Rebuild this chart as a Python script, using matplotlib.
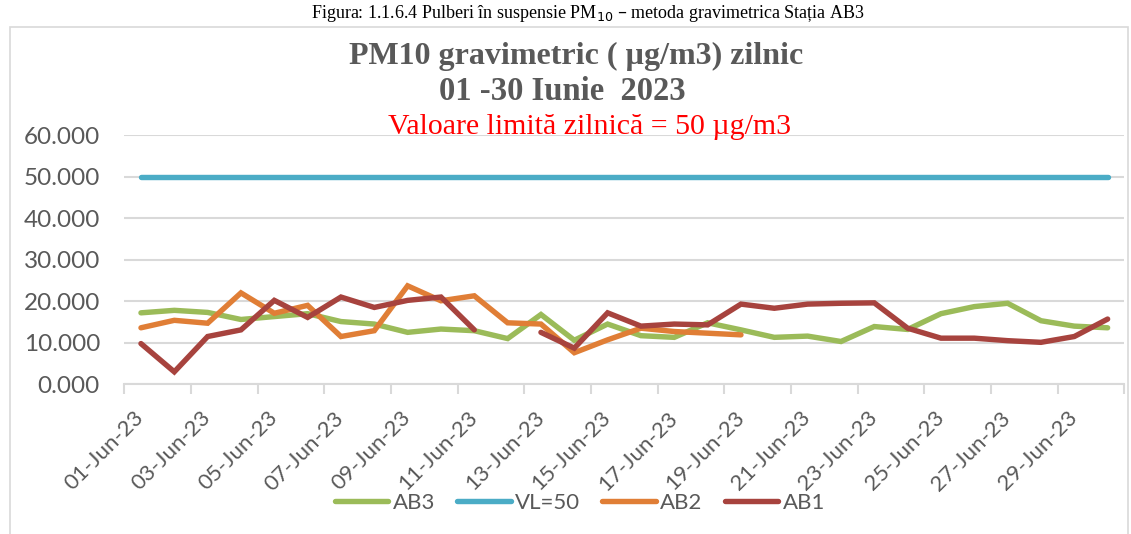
import matplotlib
matplotlib.use("Agg")
import matplotlib.pyplot as plt
import numpy as np
from matplotlib.patches import Rectangle

# ---------------- data ----------------
days = list(range(1, 31))
date_labels = [f"{d:02d}-Jun-23" for d in days]

ab3 = [17.2, 17.8, 17.3, 15.6, 16.3, 17.0, 15.1, 14.5, 12.5, 13.3, 12.9, 11.0,
       16.8, 10.6, 14.5, 11.7, 11.3, 14.8, 13.1, 11.3, 11.6, 10.3, 13.9, 13.2,
       17.0, 18.7, 19.5, 15.3, 14.0, 13.6]
vl50 = [50.0] * 30
ab2 = [13.6, 15.4, 14.7, 22.0, 17.1, 19.0, 11.5, 12.9, 23.7, 20.1, 21.3, 14.8,
       14.5, 7.6, 10.7, 13.5, 12.7, 12.3, 11.9] + [np.nan] * 11
ab1 = [9.8, 3.0, 11.5, 13.1, 20.2, 16.1, 21.0, 18.5, 20.2, 21.0, 13.1, np.nan,
       12.5, 8.7, 17.2, 14.0, 14.5, 14.3, 19.3, 18.3, 19.3, 19.5, 19.6, 13.5,
       11.1, 11.1, 10.5, 10.1, 11.5, 15.7]

series_names = ["AB3", "VL=50", "AB2", "AB1"]
series_vals = [ab3, vl50, ab2, ab1]
series_colors = ["#9BBB59", "#4BACC6", "#E07E36", "#A7433E"]

title1 = "PM10 gravimetric ( µg/m3) zilnic"
title2 = "01 -30 Iunie  2023"
subtitle = "Valoare limită zilnică = 50 µg/m3"
caption = "Figura: 1.1.6.4 Pulberi în suspensie PM$_{10}$ – metoda gravimetrica Stația AB3"

# ---------------- figure ----------------
W, H = 1131, 534
fig = plt.figure(figsize=(W / 100, H / 100), dpi=100)
fig.patch.set_facecolor("white")

def fx(px):
    return px / W

def fy(py):
    return 1 - py / H

# chart border
fig.patches.append(Rectangle((fx(9.5), fy(545)), fx(1127.5) - fx(9.5), fy(27) - fy(545),
                             transform=fig.transFigure, fill=False,
                             edgecolor="#D9D9D9", linewidth=1.2))

ax_l, ax_r, ax_t, ax_b = 124.3, 1124.3, 135.0, 384.3
ax = fig.add_axes([fx(ax_l), fy(ax_b), fx(ax_r) - fx(ax_l), (ax_b - ax_t) / H])

sans = ["Lato", "DejaVu Sans"]
grey = "#595959"

for name, vals, col in zip(series_names, series_vals, series_colors):
    ax.plot(days, vals, color=col, lw=3.9, solid_capstyle="round",
            solid_joinstyle="miter", label=name, zorder=3)

ax.set_xlim(0.5, 30.5)
ax.set_ylim(0, 60)
ax.set_yticks(np.arange(0, 61, 10))
ax.set_yticklabels([f"{v:.3f}" for v in np.arange(0, 61, 10)],
                   fontsize=17.5, color=grey, family=sans)
ax.yaxis.grid(True, color="#D9D9D9", lw=1.5, zorder=0)
ax.tick_params(axis="y", length=0, pad=17.5)

ax.set_xticks(days[::2])
ax.set_xticklabels(date_labels[::2], rotation=45, ha="right", va="center",
                   rotation_mode="anchor", fontsize=16, color=grey, family=sans)
ax.set_xticks(np.arange(0.5, 31, 2), minor=True)
ax.tick_params(axis="x", which="major", length=0, pad=22)
ax.tick_params(axis="x", which="minor", length=7, width=1.5, color="#D9D9D9")

for s in ["left", "right", "top"]:
    ax.spines[s].set_visible(False)
ax.spines["bottom"].set_color("#D9D9D9")
ax.spines["bottom"].set_linewidth(1.5)
ax.set_axisbelow(True)

# titles
serif = ["Liberation Serif", "DejaVu Serif"]
fig.text(fx(576), fy(64), title1, ha="center", va="baseline", fontsize=23,
         fontweight="bold", color=grey, family=serif)
fig.text(fx(562), fy(100), title2, ha="center", va="baseline", fontsize=23.5,
         fontweight="bold", color=grey, family=serif)
fig.text(fx(590), fy(134), subtitle, ha="center", va="baseline", fontsize=21.5,
         color="#FF0000", family=serif)
fig.text(fx(588), fy(18), caption, ha="center", va="baseline", fontsize=13,
         color="black", family=serif)

leg = fig.legend(loc="center", bbox_to_anchor=(fx(580), fy(503)), ncol=4,
                 frameon=False, handlelength=2.4, handletextpad=0.2,
                 columnspacing=1.0, prop={"family": "Lato", "size": 16})
for t in leg.get_texts():
    t.set_color(grey)

fig.savefig("out.png", dpi=100)
